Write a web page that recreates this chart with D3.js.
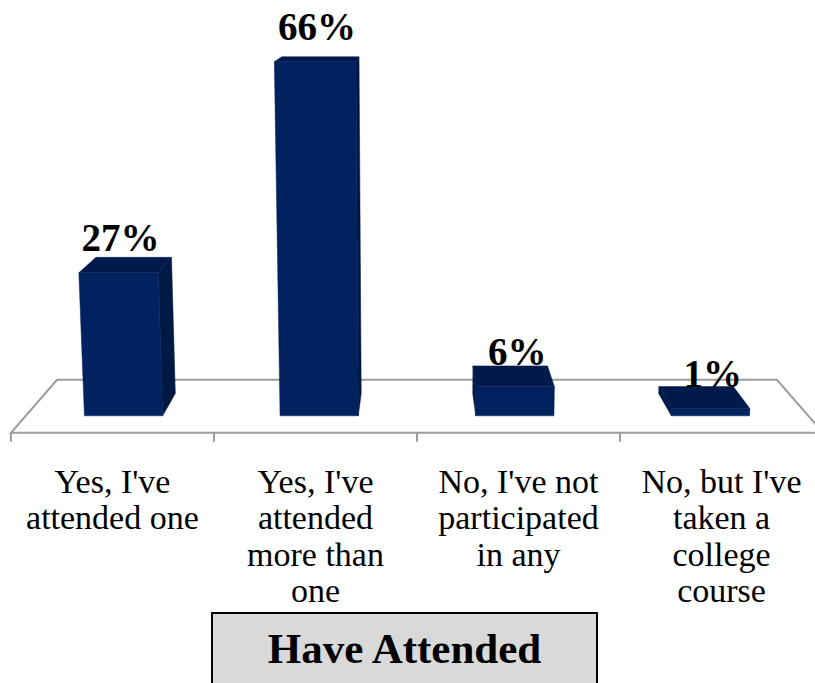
<!DOCTYPE html>
<html>
<head>
<meta charset="utf-8">
<script src="https://cdn.jsdelivr.net/npm/d3@7"></script>
<style>
  body { margin: 0; background: #fff; }
  svg { display: block; }
</style>
</head>
<body>
<div id="chart"></div>
<script>
// chart data
var categories = [
	["Yes, I've", "attended one"],
	["Yes, I've", "attended", "more than", "one"],
	["No, I've not", "participated", "in any"],
	["No, but I've", "taken a", "college", "course"]
];
var values = [0.273, 0.66, 0.056, 0.014];
var title = 'Have Attended';

var width = 815, height = 683;

// camera for the 3d look (pitched down, no yaw)
var cam = { cx: 417, cy: 340, F: 1789, th: Math.atan(0.209), h: 255.4, d: 968.3 };
var sn = Math.sin(cam.th), cs = Math.cos(cam.th);

function proj(X, Y, Z) {
	var yc = (Y - cam.h) * cs + (Z + cam.d) * sn;
	var zc = -(Y - cam.h) * sn + (Z + cam.d) * cs;
	return [cam.cx + cam.F * X / zc, cam.cy - cam.F * yc / zc];
}

// world scales
var keys = d3.range(categories.length);
var floorW = 454, floorD = 130.9, barZ = [38.7, 94.2];

var xScale = d3.scaleBand()
	.domain(keys)
	.range([-floorW / 2, floorW / 2])
	.paddingInner(0.6)
	.paddingOuter(0.3);

var xCat = d3.scaleBand()
	.domain(keys)
	.range([-floorW / 2, floorW / 2]);

var yScale = d3.scaleLinear()
	.domain([0, 1])
	.range([0, 308]);

var fmt = d3.format('.0%');

var svg = d3.select('#chart').append('svg')
	.attr('width', width)
	.attr('height', height);

var line = d3.line();

// floor
var floorPts = [
	proj(-floorW / 2, 0, 0),
	proj(-floorW / 2, 0, floorD),
	proj(floorW / 2, 0, floorD),
	proj(floorW / 2, 0, 0)
];
svg.append('path')
	.attr('d', line(floorPts) + 'Z')
	.style('fill', '#fff')
	.style('stroke', '#9c9c9c')
	.style('stroke-width', 2);

// tick marks on the front edge
var tickXs = keys.map(function(k) { return xCat(k); }).concat([floorW / 2]);
svg.selectAll('.tick').data(tickXs)
	.enter().append('line')
		.attr('class', 'tick')
		.attr('x1', function(d) { return proj(d, 0, 0)[0]; })
		.attr('x2', function(d) { return proj(d, 0, 0)[0]; })
		.attr('y1', function(d) { return proj(d, 0, 0)[1]; })
		.attr('y2', function(d) { return proj(d, 0, 0)[1] + 9; })
		.style('stroke', '#9c9c9c')
		.style('stroke-width', 2);

// bars
var bars = svg.selectAll('.bar').data(values)
	.enter().append('g')
		.attr('class', 'bar');

function face(pts) { return line(pts.map(function(p) { return proj(p[0], p[1], p[2]); })) + 'Z'; }

bars.each(function(d, i) {
	var g = d3.select(this);
	var x0 = xScale(i), x1 = x0 + xScale.bandwidth();
	var H = yScale(d), z1 = barZ[0], z2 = barZ[1];

	if (x1 < 0) {
		g.append('path')
			.attr('d', face([[x1,0,z1],[x1,0,z2],[x1,H,z2],[x1,H,z1]]))
			.style('fill', '#001844').style('stroke', '#001844').style('stroke-width', 0.5);
	}
	if (x0 > 0) {
		g.append('path')
			.attr('d', face([[x0,0,z1],[x0,0,z2],[x0,H,z2],[x0,H,z1]]))
			.style('fill', '#001844').style('stroke', '#001844').style('stroke-width', 0.5);
	}
	g.append('path')
		.attr('d', face([[x0,H,z1],[x1,H,z1],[x1,H,z2],[x0,H,z2]]))
		.style('fill', '#001a4e').style('stroke', '#001a4e').style('stroke-width', 0.5);
	g.append('path')
		.attr('d', face([[x0,0,z1],[x1,0,z1],[x1,H,z1],[x0,H,z1]]))
		.style('fill', '#02215f').style('stroke', '#02215f').style('stroke-width', 0.5);
});

// value labels
svg.selectAll('.val').data(values)
	.enter().append('text')
		.attr('class', 'val')
		.attr('x', function(d, i) { return proj(xScale(i) + xScale.bandwidth() / 2, yScale(d), barZ[0])[0] + 2; })
		.attr('y', function(d, i) { return proj(xScale(i) + xScale.bandwidth() / 2, yScale(d), barZ[0])[1] - 22; })
		.attr('text-anchor', 'middle')
		.style('font-family', '"Liberation Serif", "Times New Roman", serif')
		.style('font-weight', 'bold')
		.style('font-size', '39px')
		.style('fill', '#000')
		.text(function(d) { return fmt(d); });

// category labels
var catText = svg.selectAll('.cat').data(categories)
	.enter().append('text')
		.attr('class', 'cat')
		.attr('text-anchor', 'middle')
		.style('font-family', '"Liberation Serif", "Times New Roman", serif')
		.style('font-size', '34px')
		.style('fill', '#000');

catText.selectAll('tspan')
	.data(function(d, i) { return d.map(function(s) { return { s: s, i: i }; }); })
	.enter().append('tspan')
		.attr('x', function(d) { return proj(xCat(d.i) + xCat.bandwidth() / 2, 0, 0)[0]; })
		.attr('y', function(d, j) { return 492.5 + j * 36.5; })
		.text(function(d) { return d.s; });

// title box
svg.append('rect')
	.attr('x', 212)
	.attr('y', 613)
	.attr('width', 385)
	.attr('height', 100)
	.style('fill', '#d9d9d9')
	.style('stroke', '#000')
	.style('stroke-width', 2);

svg.append('text')
	.attr('x', 404.5)
	.attr('y', 663)
	.attr('text-anchor', 'middle')
	.style('font-family', '"Liberation Serif", "Times New Roman", serif')
	.style('font-weight', 'bold')
	.style('font-size', '43px')
	.text(title);
</script>
</body>
</html>
